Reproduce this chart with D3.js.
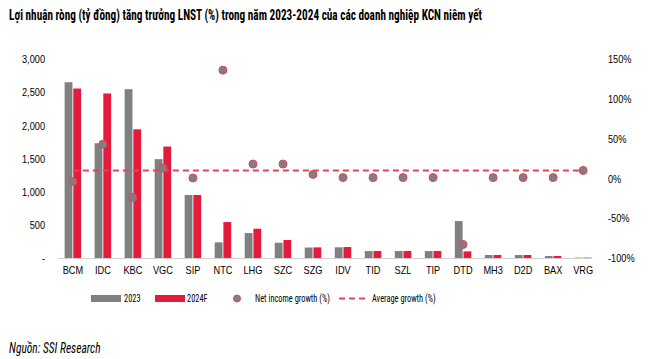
<!DOCTYPE html>
<html><head><meta charset="utf-8">
<script src="https://cdn.jsdelivr.net/npm/d3@7"></script>
<style>
body{margin:0;background:#fff;}
svg{display:block;font-family:"Liberation Sans Narrow","Arial Narrow","Roboto Condensed","Liberation Sans",sans-serif;}
</style></head>
<body><svg id="c" width="659" height="359"></svg>
<script>
const categories = ["BCM","IDC","KBC","VGC","SIP","NTC","LHG","SZC","SZG","IDV","TID","SZL","TIP","DTD","MH3","D2D","BAX","VRG"];
const profit2023 = [2650,1730,2545,1490,950,236,376,230,158,161,105,105,105,557,45,45,30,6];
const profit2024F = [2555,2480,1940,1680,950,542,441,271,160,165,105,105,105,100,45,45,30,6];
const growth = [-4,43,-24,13,0.5,136,18,18,5,1,1,1,1,-83,1,1,1,10];
const averageGrowth = 10;
const leftTicks = [0,500,1000,1500,2000,2500,3000];
const rightTicks = [-100,-50,0,50,100,150];
const title = "Lợi nhuận ròng (tỷ đồng) tăng trưởng LNST (%) trong năm 2023-2024 của các doanh nghiệp KCN niêm yết";
const source = "Nguồn: SSI Research";

const GRAY = "#808080", RED = "#e61a3c", DASH = "#e8415a";
const K = 0.8;
const svg = d3.select("#c");

function condense(sel, k){
  sel.each(function(){
    const w = this.getComputedTextLength();
    d3.select(this).attr("textLength", w*k).attr("lengthAdjust","spacingAndGlyphs");
  });
}

const x = d3.scaleBand().domain(categories).range([58,598]).paddingInner(0.45).paddingOuter(0.22);
const yL = d3.scaleLinear().domain([0,3000]).range([258,59]);
const yR = d3.scaleLinear().domain([-100,150]).range([258,59]);
const sub = d3.scaleBand().domain(["a","b"]).range([0,x.bandwidth()]).paddingInner(0.1);

// title
const t = svg.append("text").attr("x",9).attr("y",20).attr("font-size",15).attr("font-weight","bold")
  .attr("fill","#000").text(title);
t.attr("textLength",473).attr("lengthAdjust","spacingAndGlyphs");

// left axis
const axL = d3.axisLeft(yL).tickValues(leftTicks).tickSize(0).tickPadding(0)
  .tickFormat(d => d===0 ? "-" : d3.format(",")(d));
const gL = svg.append("g").attr("transform","translate(45,0)").call(axL);
gL.select(".domain").remove();
gL.selectAll("text").attr("font-size",11.5).attr("fill","#000").attr("font-family",null);
condense(gL.selectAll("text"),K);

// right axis
const axR = d3.axisRight(yR).tickValues(rightTicks).tickSize(0).tickPadding(0).tickFormat(d => d+"%");
const gR = svg.append("g").attr("transform","translate(608,0)").call(axR);
gR.select(".domain").remove();
gR.selectAll("text").attr("font-size",11.5).attr("fill","#000").attr("font-family",null);
condense(gR.selectAll("text"),K);

// bars
const bars = svg.append("g");
bars.selectAll(".b1").data(categories).join("rect")
  .attr("x",(d)=>x(d)+sub("a")).attr("width",sub.bandwidth())
  .attr("y",(d,i)=>yL(profit2023[i])).attr("height",(d,i)=>yL(0)-yL(profit2023[i]))
  .attr("fill",GRAY);
bars.selectAll(".b2").data(categories).join("rect")
  .attr("x",(d)=>x(d)+sub("b")).attr("width",sub.bandwidth())
  .attr("y",(d,i)=>yL(profit2024F[i])).attr("height",(d,i)=>yL(0)-yL(profit2024F[i]))
  .attr("fill",RED);

// baseline
svg.append("line").attr("x1",58).attr("x2",592).attr("y1",258.5).attr("y2",258.5)
  .attr("stroke","#d0d0d0").attr("stroke-width",1);

// x labels
const axB = d3.axisBottom(x).tickSize(0).tickPadding(0);
const gB = svg.append("g").attr("transform","translate(0,266)").call(axB);
gB.select(".domain").remove();
gB.selectAll("text").attr("font-size",11.5).attr("fill","#000").attr("font-family",null).attr("dy","0.71em");
condense(gB.selectAll("text"),K);

// average line
svg.append("line").attr("x1",x(categories[0])+x.bandwidth()/2).attr("x2",x(categories[categories.length-1])+x.bandwidth()/2)
  .attr("y1",yR(averageGrowth)).attr("y2",yR(averageGrowth))
  .attr("stroke",DASH).attr("stroke-width",2).attr("stroke-dasharray","6,4");

// dots
svg.append("g").selectAll("circle").data(categories).join("circle")
  .attr("cx",d=>x(d)+x.bandwidth()/2).attr("cy",(d,i)=>yR(growth[i])).attr("r",4)
  .attr("fill","#7f7f7f").attr("stroke",DASH).attr("stroke-width",1);

// legend
const lg = svg.append("g").attr("font-size",11);
lg.append("rect").attr("x",91).attr("y",295).attr("width",30).attr("height",7).attr("fill",GRAY);
lg.append("text").attr("x",124).attr("y",302).text("2023");
lg.append("rect").attr("x",155).attr("y",295).attr("width",30).attr("height",7).attr("fill",RED);
lg.append("text").attr("x",187).attr("y",302).text("2024F");
lg.append("circle").attr("cx",237).attr("cy",298.5).attr("r",3.5).attr("fill","#7f7f7f").attr("stroke",DASH);
lg.append("text").attr("x",255).attr("y",302).text("Net income growth (%)");
lg.append("line").attr("x1",339).attr("x2",366).attr("y1",298.5).attr("y2",298.5)
  .attr("stroke",DASH).attr("stroke-width",2).attr("stroke-dasharray","6,4");
lg.append("text").attr("x",372).attr("y",302).text("Average growth (%)");
condense(lg.selectAll("text"),0.76);

// source
const s = svg.append("text").attr("x",9).attr("y",353).attr("font-size",14).attr("font-style","italic").text(source);
condense(s,0.82);
</script></body></html>
